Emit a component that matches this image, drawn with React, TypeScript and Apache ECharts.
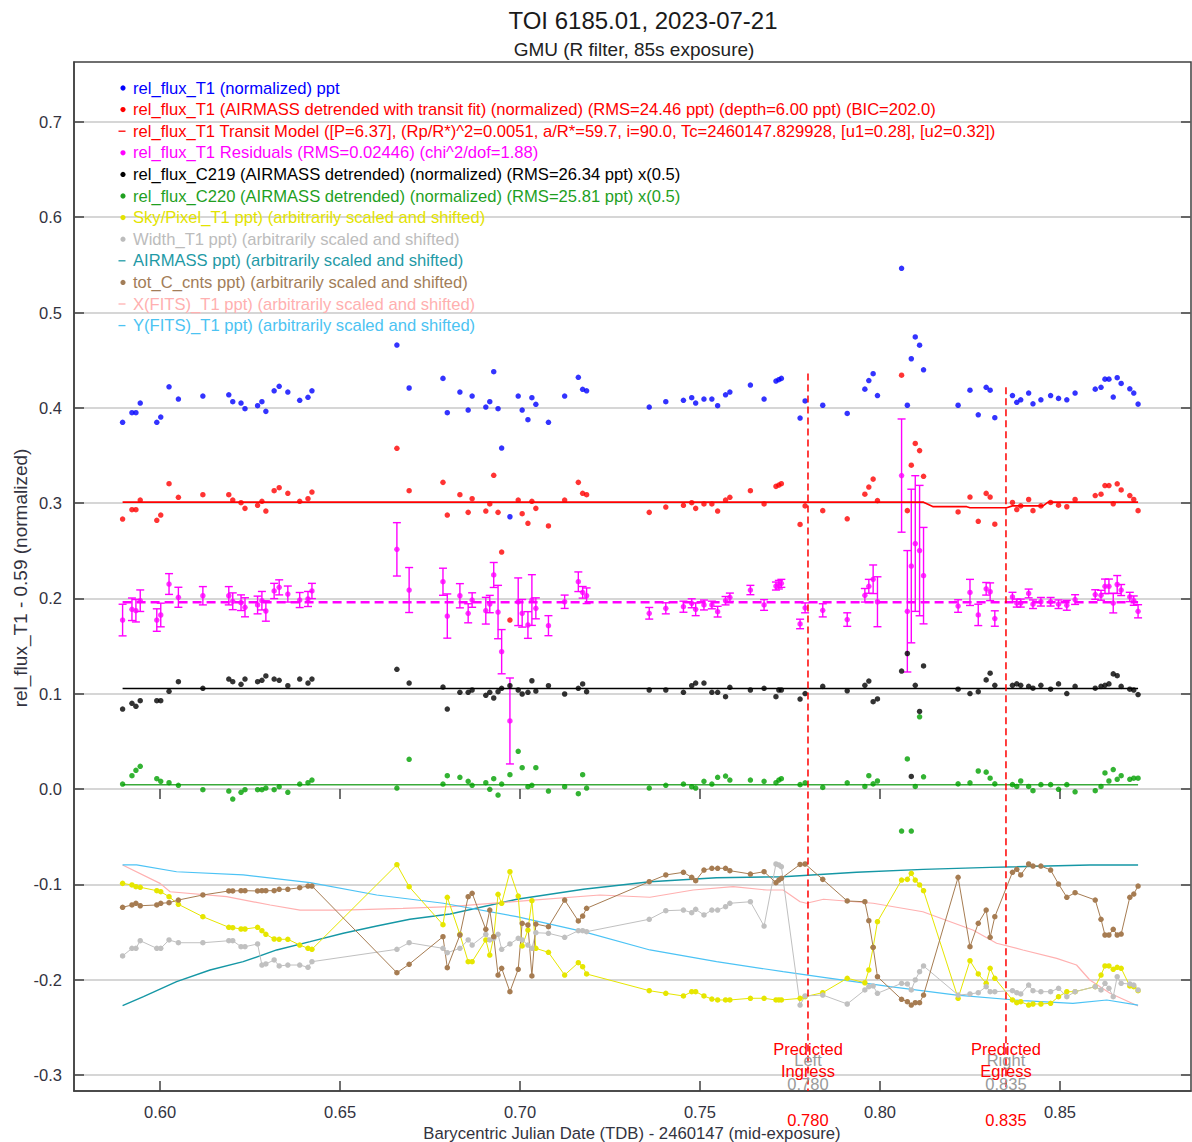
import React, { useEffect, useRef } from "react";
import * as echarts from "echarts";

const times = [
  0.5896, 0.5922, 0.5933, 0.5945, 0.5991, 0.6002, 0.6025, 0.6051, 0.6119, 0.6191,
  0.6202, 0.6225, 0.6236, 0.6271, 0.6283, 0.6294, 0.6317, 0.6331, 0.6355, 0.6388,
  0.6411, 0.6422, 0.6658, 0.6692, 0.6786, 0.6798, 0.6833, 0.6856, 0.6867, 0.6905,
  0.6916, 0.6927, 0.6939, 0.6949, 0.6972, 0.6995, 0.7006, 0.7022, 0.7033, 0.7044,
  0.7079, 0.7124, 0.7162, 0.7174, 0.7185, 0.7359, 0.7405, 0.7454, 0.7477, 0.7488,
  0.7511, 0.7533, 0.7549, 0.7571, 0.7583, 0.764, 0.7678, 0.7711, 0.7719, 0.7726,
  0.7778, 0.7792, 0.7841, 0.7909, 0.7958, 0.7969, 0.7981, 0.7993, 0.806, 0.8076,
  0.8087, 0.8098, 0.811, 0.8121, 0.8217, 0.825, 0.8273, 0.8295, 0.8306, 0.8319,
  0.8368, 0.838, 0.8391, 0.8413, 0.8425, 0.8447, 0.8474, 0.8496, 0.8519, 0.8542,
  0.8598, 0.8614, 0.8625, 0.8636, 0.8648, 0.8659, 0.867, 0.8694, 0.8705, 0.8717,
];

const relFluxT1 = [
  0.3848, 0.3949, 0.3949, 0.405, 0.3848, 0.3903, 0.4221, 0.4092, 0.4124, 0.4137,
  0.4064, 0.405, 0.3991, 0.4022, 0.4064, 0.3963, 0.4179, 0.4226, 0.4166, 0.4079,
  0.411, 0.4179, 0.4659, 0.4208, 0.4309, 0.3949, 0.4166, 0.3977, 0.4124, 0.4008,
  0.4064, 0.4379, 0.3991, 0.3578, 0.2857, 0.4124, 0.3977, 0.3875, 0.4106, 0.4037,
  0.3848, 0.4124, 0.432, 0.4194, 0.4179, 0.4008, 0.4064, 0.4079, 0.4106, 0.405,
  0.4092, 0.4092, 0.4022, 0.4137, 0.4166, 0.4239, 0.4092, 0.4281, 0.4295, 0.4309,
  0.3893, 0.4072, 0.4027, 0.3941, 0.4196, 0.4286, 0.4358, 0.4129, 0.5464, 0.4027,
  0.4515, 0.4744, 0.4657, 0.4399, 0.4027, 0.4185, 0.3927, 0.4215, 0.4185, 0.3896,
  0.4129, 0.4058, 0.4084, 0.4155, 0.4042, 0.4084, 0.4129, 0.4099, 0.4084, 0.4155,
  0.4196, 0.4215, 0.4301, 0.4301, 0.4113, 0.4316, 0.4256, 0.42, 0.4155, 0.4039,
];

const detrended = [
  0.2833, 0.2931, 0.2931, 0.3032, 0.282, 0.2875, 0.3204, 0.3061, 0.3088, 0.3088,
  0.3032, 0.3004, 0.2945, 0.2977, 0.3019, 0.2917, 0.313, 0.3162, 0.3103, 0.3019,
  0.3046, 0.3116, 0.3575, 0.313, 0.3218, 0.2875, 0.3088, 0.2903, 0.3046, 0.2917,
  0.2991, 0.3292, 0.2903, 0.2487, 0.1773, 0.3032, 0.2889, 0.2788, 0.3019, 0.2945,
  0.276, 0.3032, 0.3218, 0.3103, 0.3088, 0.2903, 0.2959, 0.2977, 0.3004, 0.2945,
  0.2991, 0.2991, 0.2917, 0.3032, 0.3061, 0.313, 0.2991, 0.3176, 0.319, 0.3204,
  0.2776, 0.2971, 0.2921, 0.2835, 0.3094, 0.3169, 0.3252, 0.3026, 0.4342, 0.2921,
  0.3398, 0.3626, 0.3551, 0.3281, 0.2907, 0.3064, 0.2809, 0.3102, 0.3064, 0.2779,
  0.3007, 0.2933, 0.2971, 0.3038, 0.2921, 0.2971, 0.3007, 0.2978, 0.2962, 0.3038,
  0.3079, 0.3094, 0.3184, 0.3184, 0.2993, 0.3203, 0.3138, 0.3079, 0.3038, 0.2921,
];

const residuals = [
  0.1773, 0.1886, 0.1871, 0.1976, 0.1773, 0.1826, 0.2151, 0.2012, 0.2028, 0.2028,
  0.197, 0.1955, 0.1907, 0.1931, 0.1976, 0.1868, 0.2078, 0.2116, 0.2046, 0.1983,
  0.1994, 0.2078, 0.2515, 0.2088, 0.2175, 0.1815, 0.2028, 0.1844, 0.1983, 0.1871,
  0.1941, 0.2246, 0.1857, 0.1441, 0.0714, 0.1965, 0.1844, 0.1721, 0.1983, 0.1896,
  0.1714, 0.1965, 0.2175, 0.2064, 0.2028, 0.1844, 0.1896, 0.1913, 0.1949, 0.1886,
  0.1931, 0.1931, 0.1861, 0.1976, 0.2012, 0.2088, 0.1931, 0.213, 0.2144, 0.2158,
  0.1732, 0.1901, 0.1875, 0.1778, 0.2033, 0.2127, 0.2201, 0.1965, 0.3289, 0.1865,
  0.234, 0.2576, 0.2502, 0.2239, 0.192, 0.2063, 0.1827, 0.2101, 0.207, 0.1789,
  0.2015, 0.1951, 0.1951, 0.2052, 0.1939, 0.1965, 0.1965, 0.1939, 0.1928, 0.1988,
  0.2041, 0.2033, 0.2127, 0.2127, 0.1951, 0.2146, 0.2088, 0.2015, 0.1977, 0.1865,
];

const residualErr = [
  0.0166, 0.0118, 0.0118, 0.0113, 0.0118, 0.0124, 0.0109, 0.0105, 0.0096, 0.0096,
  0.0088, 0.0082, 0.01, 0.0093, 0.0097, 0.0107, 0.008, 0.0079, 0.0084, 0.0079,
  0.0079, 0.008, 0.028, 0.0236, 0.0142, 0.0232, 0.0127, 0.01, 0.0076, 0.014,
  0.0091, 0.0131, 0.028, 0.0232, 0.0451, 0.025, 0.0145, 0.014, 0.0266, 0.011,
  0.0105, 0.007, 0.0103, 0.0061, 0.0082, 0.0061, 0.0058, 0.0058, 0.0047, 0.0067,
  0.0052, 0.004, 0.0056, 0.0044, 0.0044, 0.0049, 0.0056, 0.0042, 0.0045, 0.0042,
  0.005, 0.0052, 0.0069, 0.0071, 0.0071, 0.0073, 0.015, 0.0262, 0.0594, 0.0637,
  0.0806, 0.0712, 0.0684, 0.0506, 0.0066, 0.0137, 0.0112, 0.0066, 0.0093, 0.0081,
  0.0049, 0.0042, 0.0042, 0.0046, 0.0045, 0.0045, 0.0045, 0.0045, 0.0052, 0.0051,
  0.005, 0.0052, 0.0076, 0.0076, 0.0103, 0.0094, 0.0058, 0.0049, 0.0049, 0.0069,
];

const c219 = [
  0.0839, 0.0899, 0.0868, 0.0927, 0.0927, 0.0927, 0.1025, 0.1126, 0.1057, 0.1154,
  0.1126, 0.1099, 0.1154, 0.1126, 0.1141, 0.1186, 0.1154, 0.1141, 0.1084, 0.1154,
  0.1112, 0.1154, 0.1256, 0.1112, 0.107, 0.0839, 0.1015, 0.1015, 0.1039, 0.0983,
  0.1015, 0.0955, 0.1021, 0.1057, 0.1084, 0.1039, 0.0997, 0.1015, 0.1136, 0.1028,
  0.1084, 0.0997, 0.1057, 0.1102, 0.1021, 0.1039, 0.1039, 0.1015, 0.1084, 0.1112,
  0.1112, 0.1015, 0.1015, 0.0969, 0.1067, 0.1039, 0.1057, 0.0969, 0.1039, 0.1039,
  0.0944, 0.1002, 0.1077, 0.1031, 0.1088, 0.1133, 0.0916, 0.0945, 0.1238, 0.1422,
  0.0132, 0.1088, 0.0814, 0.1291, 0.1047, 0.1002, 0.1021, 0.1145, 0.1215, 0.1088,
  0.1088, 0.1103, 0.1088, 0.1077, 0.1058, 0.1088, 0.1047, 0.1103, 0.1002, 0.1077,
  0.1058, 0.1077, 0.1088, 0.1103, 0.1208, 0.1189, 0.1077, 0.1047, 0.1039, 0.0991,
];

const c220 = [
  0.0052, 0.014, 0.0196, 0.0238, 0.0108, 0.0081, 0.0066, 0.0039, -0.0007, -0.0021,
  -0.0105, -0.0035, -0.0007, -0.0007, -0.0007, 0.001, -0.0007, 0.0024, -0.0035, 0.0052,
  0.0066, 0.0094, 0.001, 0.0312, 0.0052, 0.014, 0.0123, 0.0081, 0.0039, 0.0066,
  -0.0003, 0.0108, -0.0063, 0.0052, 0.015, 0.0396, 0.0224, 0.0024, 0.0039, 0.0224,
  -0.0021, 0.0024, -0.0049, 0.015, 0.001, 0.001, 0.0039, 0.0052, 0.0024, 0.001,
  0.0081, 0.0052, 0.0123, 0.0136, 0.0094, 0.0094, 0.0081, 0.0066, 0.0094, 0.0108,
  0.0046, 0.0065, 0.0016, 0.0065, 0.0027, 0.014, 0.0054, 0.0084, -0.0441, 0.0315,
  -0.0441, 0.0027, 0.0758, 0.0128, 0.0054, 0.0065, 0.0189, 0.0177, 0.0113, 0.0054,
  0.0046, 0.0027, 0.0084, 0.0027, -0.0018, 0.0046, 0.0046, -0.0003, 0.0046, -0.0029,
  -0.0018, 0.0027, 0.0169, 0.0084, 0.0204, 0.0102, 0.014, 0.0102, 0.0113, 0.0113,
];

const skyPixel = [
  -0.099, -0.1007, -0.1025, -0.1031, -0.1067, -0.1078, -0.113, -0.121, -0.134, -0.1451,
  -0.1455, -0.1469, -0.1469, -0.1451, -0.1487, -0.1525, -0.1574, -0.1577, -0.1577, -0.1637,
  -0.1672, -0.1682, -0.0794, -0.1025, -0.1424, -0.1136, -0.1525, -0.1812, -0.1812, -0.1584,
  -0.1742, -0.155, -0.1105, -0.1199, -0.0868, -0.1123, -0.1647, -0.148, -0.1172, -0.1672,
  -0.1714, -0.1952, -0.1823, -0.1865, -0.1941, -0.2116, -0.2144, -0.2172, -0.2127, -0.2127,
  -0.2172, -0.2204, -0.2214, -0.2214, -0.2214, -0.2196, -0.2196, -0.2214, -0.2214, -0.2214,
  -0.2197, -0.2179, -0.2137, -0.1986, -0.2033, -0.1899, -0.1661, -0.1392, -0.0955, -0.0948,
  -0.0885, -0.0955, -0.1007, -0.1067, -0.2196, -0.1802, -0.1941, -0.2039, -0.1881, -0.1986,
  -0.2214, -0.2242, -0.2232, -0.2267, -0.2256, -0.2256, -0.2249, -0.2179, -0.2127, -0.2127,
  -0.2074, -0.1952, -0.1857, -0.1857, -0.1892, -0.1871, -0.1881, -0.2067, -0.2074, -0.2116,
];

const widthT1 = [
  -0.1752, -0.1672, -0.1672, -0.1592, -0.1672, -0.1672, -0.1584, -0.1613, -0.1613, -0.1592,
  -0.1592, -0.1655, -0.1655, -0.1626, -0.1847, -0.1836, -0.1794, -0.1857, -0.1847, -0.1847,
  -0.1871, -0.1812, -0.1682, -0.1613, -0.1672, -0.1718, -0.1672, -0.1584, -0.1637, -0.1525,
  -0.1584, -0.1567, -0.1525, -0.1682, -0.1626, -0.1567, -0.1584, -0.1637, -0.1672, -0.1508,
  -0.1514, -0.1556, -0.1487, -0.1487, -0.1497, -0.1367, -0.1277, -0.127, -0.1298, -0.1262,
  -0.1322, -0.127, -0.127, -0.1235, -0.1199, -0.1183, -0.1438, -0.0787, -0.0797, -0.0815,
  -0.2267, -0.2172, -0.2162, -0.2256, -0.2109, -0.2074, -0.2067, -0.2144, -0.2039, -0.2046,
  -0.2109, -0.2004, -0.1917, -0.1857, -0.2162, -0.2151, -0.2137, -0.2074, -0.2127, -0.2127,
  -0.2116, -0.2137, -0.2151, -0.2057, -0.2116, -0.2127, -0.2127, -0.2091, -0.2179, -0.2127,
  -0.2074, -0.2109, -0.2039, -0.2091, -0.2179, -0.197, -0.2039, -0.2046, -0.2057, -0.2109,
];

const totCnts = [
  -0.1241, -0.1217, -0.1199, -0.1225, -0.1217, -0.1199, -0.1193, -0.1165, -0.1112, -0.107,
  -0.107, -0.1067, -0.1067, -0.107, -0.1067, -0.1067, -0.1067, -0.1052, -0.1052, -0.1036,
  -0.1018, -0.1018, -0.1928, -0.1839, -0.155, -0.1875, -0.1532, -0.113, -0.1094, -0.1472,
  -0.127, -0.155, -0.1952, -0.1881, -0.2127, -0.1892, -0.1409, -0.1427, -0.1962, -0.1417,
  -0.1445, -0.1165, -0.1385, -0.1333, -0.1252, -0.0973, -0.0902, -0.0874, -0.0927, -0.0962,
  -0.085, -0.0832, -0.0832, -0.0832, -0.0857, -0.0892, -0.0868, -0.0983, -0.0955, -0.0937,
  -0.0792, -0.0787, -0.0948, -0.1175, -0.1183, -0.1382, -0.1661, -0.197, -0.2207, -0.2232,
  -0.2267, -0.2242, -0.2242, -0.2162, -0.0927, -0.1655, -0.1409, -0.127, -0.1556, -0.134,
  -0.0874, -0.0843, -0.0902, -0.0787, -0.0808, -0.0808, -0.085, -0.0997, -0.1136, -0.1088,
  -0.1165, -0.1367, -0.1532, -0.1532, -0.1472, -0.1532, -0.1522, -0.1136, -0.1102, -0.1018,
];

const airmassT = [0.5896, 0.5954, 0.6046, 0.6139, 0.6231, 0.6324, 0.6417, 0.6509, 0.6602, 0.6694, 0.6806, 0.6991, 0.7176, 0.7361, 0.7546, 0.7731, 0.7935, 0.812, 0.8306, 0.8583, 0.8717];
const airmassY = [-0.2274, -0.2179, -0.2022, -0.1899, -0.1812, -0.1689, -0.1602, -0.1514, -0.1438, -0.1367, -0.1312, -0.1157, -0.1052, -0.0973, -0.0931, -0.092, -0.0874, -0.0843, -0.0822, -0.0797, -0.0797];

const xfitsT = [0.5896, 0.6, 0.6028, 0.6185, 0.6306, 0.6389, 0.6508, 0.6675, 0.6806, 0.7036, 0.7222, 0.7361, 0.7481, 0.7592, 0.7686, 0.7731, 0.7778, 0.7796, 0.7843, 0.7981, 0.8119, 0.8258, 0.8324, 0.8397, 0.8491, 0.8546, 0.8583, 0.8639, 0.8717];
const xfitsY = [-0.0797, -0.099, -0.1078, -0.113, -0.1217, -0.127, -0.127, -0.1252, -0.1235, -0.1165, -0.1112, -0.1136, -0.106, -0.1025, -0.106, -0.106, -0.1183, -0.1199, -0.1157, -0.1199, -0.1288, -0.148, -0.1619, -0.1689, -0.1777, -0.1847, -0.2004, -0.2144, -0.2277];

const yfitsT = [0.5896, 0.5935, 0.6046, 0.6231, 0.6417, 0.6602, 0.6787, 0.6991, 0.7176, 0.7361, 0.7546, 0.7731, 0.7843, 0.8028, 0.8213, 0.8397, 0.8536, 0.863, 0.8717];
const yfitsY = [-0.0797, -0.0797, -0.0868, -0.0902, -0.0983, -0.1112, -0.1199, -0.134, -0.1497, -0.1689, -0.1812, -0.1917, -0.1976, -0.2074, -0.2162, -0.2221, -0.2249, -0.2214, -0.2267];

const modelT = [0.5896, 0.8121, 0.8148, 0.8241, 0.825, 0.8352, 0.8368, 0.8453, 0.8467, 0.8717];
const modelY = [0.301, 0.301, 0.2963, 0.2963, 0.2952, 0.2952, 0.2971, 0.2971, 0.301, 0.301];

const residualBaseline = 0.196;
const c219Level = 0.1055;
const c220Level = 0.0044;

const xTicks = [0.6, 0.65, 0.7, 0.75, 0.8, 0.85];
const yTicks = [-0.3, -0.2, -0.1, 0, 0.1, 0.2, 0.3, 0.4, 0.5, 0.6, 0.7];
const X_MIN = 0.5761;
const X_MAX = 0.8864;
const Y_MIN = -0.3169;
const Y_MAX = 0.7629;

const predicted = [
  { t: 0.78, top: 0.436, side: "Left", kind: "Ingress", label: "0.780" },
  { t: 0.835, top: 0.4215, side: "Right", kind: "Egress", label: "0.835" },
];

const legendItems = [
  { text: "rel_flux_T1 (normalized) ppt", color: "#0000ff", mark: "dot" },
  { text: "rel_flux_T1 (AIRMASS detrended with transit fit) (normalized) (RMS=24.46 ppt) (depth=6.00 ppt) (BIC=202.0)", color: "#ff0000", mark: "dot" },
  { text: "rel_flux_T1 Transit Model ([P=6.37], (Rp/R*)^2=0.0051, a/R*=59.7, i=90.0, Tc=2460147.829928, [u1=0.28], [u2=0.32])", color: "#ff0000", mark: "dash" },
  { text: "rel_flux_T1 Residuals (RMS=0.02446) (chi^2/dof=1.88)", color: "#ff00ff", mark: "dot" },
  { text: "rel_flux_C219 (AIRMASS detrended) (normalized) (RMS=26.34 ppt) x(0.5)", color: "#000000", mark: "dot" },
  { text: "rel_flux_C220 (AIRMASS detrended) (normalized) (RMS=25.81 ppt) x(0.5)", color: "#1f9f1f", mark: "dot" },
  { text: "Sky/Pixel_T1 ppt) (arbitrarily scaled and shifted)", color: "#e3e300", mark: "dot" },
  { text: "Width_T1 ppt) (arbitrarily scaled and shifted)", color: "#bcbcbc", mark: "dot" },
  { text: "AIRMASS ppt) (arbitrarily scaled and shifted)", color: "#1f9aa6", mark: "dash" },
  { text: "tot_C_cnts ppt) (arbitrarily scaled and shifted)", color: "#a27d58", mark: "dot" },
  { text: "X(FITS)_T1 ppt) (arbitrarily scaled and shifted)", color: "#ffb0b0", mark: "dash" },
  { text: "Y(FITS)_T1 ppt) (arbitrarily scaled and shifted)", color: "#4cc3f2", mark: "dash" },
];

const COLORS = {
  blue: "#0000ff",
  red: "#ff0000",
  magenta: "#ff00ff",
  black: "#000000",
  green: "#00a000",
  greenLine: "#3aaa3a",
  yellow: "#e6e600",
  gray: "#c0c0c0",
  teal: "#1597a5",
  brown: "#a67c52",
  pink: "#ffb0b0",
  lightBlue: "#4cc3f5",
};

const FONT = "'Liberation Sans', Arial, Helvetica, sans-serif";

function zip(a: number[], b: number[]) {
  return a.map((v, i) => [v, b[i]]);
}

export default function App() {
  const ref = useRef<HTMLDivElement>(null);
  useEffect(() => {
    if (!ref.current) return;
    const chart = echarts.init(ref.current, null, { renderer: "svg" });
    const first = times[0];
    const last = times[times.length - 1];
    const scatter = (name: string, data: number[], color: string, z = 5) => ({
      name,
      type: "scatter",
      data: zip(times, data),
      symbol: "circle",
      symbolSize: 5.5,
      itemStyle: { color },
      z,
    });
    const lineMarked = (name: string, data: number[], color: string) => ({
      name,
      type: "line",
      data: zip(times, data),
      symbol: "circle",
      symbolSize: 5.5,
      showSymbol: true,
      itemStyle: { color },
      lineStyle: { color, width: 1 },
      z: 4,
    });
    const plainLine = (name: string, t: number[], y: number[], color: string, width = 1.2, type: any = "solid", z = 3) => ({
      name,
      type: "line",
      data: zip(t, y),
      showSymbol: false,
      symbol: "none",
      lineStyle: { color, width, type },
      z,
    });

    const series: any[] = [
      scatter("rel_flux_T1", relFluxT1, COLORS.blue),
      scatter("detrended", detrended, COLORS.red),
      plainLine("model", modelT, modelY, COLORS.red, 1.6, "solid", 4),
      {
        name: "residual err",
        type: "custom",
        data: times.map((t, i) => [t, residuals[i], residualErr[i]]),
        encode: { x: 0, y: 1 },
        clip: true,
        z: 4,
        renderItem: (params: any, api: any) => {
          const x = api.value(0);
          const y = api.value(1);
          const e = api.value(2);
          const top = api.coord([x, y + e]);
          const bot = api.coord([x, y - e]);
          const hw = 4;
          const st = { stroke: COLORS.magenta, lineWidth: 1.4 };
          return {
            type: "group",
            children: [
              { type: "line", shape: { x1: top[0], y1: top[1], x2: bot[0], y2: bot[1] }, style: st },
              { type: "line", shape: { x1: top[0] - hw, y1: top[1], x2: top[0] + hw, y2: top[1] }, style: st },
              { type: "line", shape: { x1: bot[0] - hw, y1: bot[1], x2: bot[0] + hw, y2: bot[1] }, style: st },
            ],
          };
        },
      },
      scatter("residuals", residuals, COLORS.magenta),
      plainLine("residual baseline", [first, last], [residualBaseline, residualBaseline], COLORS.magenta, 2.6, [9, 5], 4),
      plainLine("c219 level", [first, last], [c219Level, c219Level], COLORS.black, 1.6, "solid", 4),
      scatter("c219", c219, COLORS.black),
      plainLine("c220 level", [first, last], [c220Level, c220Level], COLORS.greenLine, 1.6, "solid", 4),
      scatter("c220", c220, COLORS.green),
      lineMarked("sky", skyPixel, COLORS.yellow),
      lineMarked("width", widthT1, COLORS.gray),
      plainLine("airmass", airmassT, airmassY, COLORS.teal, 1.4),
      lineMarked("cnts", totCnts, COLORS.brown),
      plainLine("xfits", xfitsT, xfitsY, COLORS.pink, 1.2),
      plainLine("yfits", yfitsT, yfitsY, COLORS.lightBlue, 1.2),
      ...predicted.map((p) =>
        plainLine("pred " + p.kind, [p.t, p.t], [p.top, Y_MIN], COLORS.red, 1.5, [7, 4], 6)
      ),
    ];

    const axisColor = "#404040";
    const option: any = {
      animation: false,
      backgroundColor: "#ffffff",
      grid: {
        left: 74,
        right: 1,
        top: 62,
        bottom: 51,
        show: true,
        borderColor: axisColor,
        borderWidth: 1.5,
        backgroundColor: "transparent",
      },
      xAxis: [
        {
          type: "value",
          min: X_MIN,
          max: X_MAX,
          position: "bottom",
          axisLine: { show: true, onZero: false, lineStyle: { color: axisColor, width: 1.5 } },
          axisTick: { show: true, inside: true, length: 10, customValues: xTicks, lineStyle: { color: axisColor, width: 1.5 } },
          axisLabel: {
            show: true,
            customValues: xTicks,
            formatter: (v: number) => v.toFixed(2),
            fontSize: 16.5,
            fontFamily: FONT,
            color: "#333340",
            margin: 12,
          },
          splitLine: { show: false },
        },
        {
          type: "value",
          min: X_MIN,
          max: X_MAX,
          position: "top",
          axisLine: { show: false },
          axisTick: { show: true, inside: true, length: 10, customValues: xTicks, lineStyle: { color: axisColor, width: 1.5 } },
          axisLabel: { show: false },
          splitLine: { show: false },
        },
      ],
      yAxis: [
        {
          type: "value",
          min: Y_MIN,
          max: Y_MAX,
          position: "left",
          axisLine: { show: true, onZero: false, lineStyle: { color: axisColor, width: 1.5 } },
          axisTick: { show: true, inside: true, length: 10, customValues: yTicks, lineStyle: { color: axisColor, width: 1.5 } },
          axisLabel: {
            show: true,
            customValues: yTicks,
            formatter: (v: number) => v.toFixed(1),
            fontSize: 16.5,
            fontFamily: FONT,
            color: "#333340",
            margin: 12,
          },
          splitLine: { show: true, lineStyle: { color: "#c8c8c8", width: 1.5 } },
        },
        {
          type: "value",
          min: Y_MIN,
          max: Y_MAX,
          position: "right",
          axisLine: { show: false },
          axisTick: { show: true, inside: true, length: 10, customValues: yTicks, lineStyle: { color: axisColor, width: 1.5 } },
          axisLabel: { show: false },
          splitLine: { show: false },
        },
      ],
      series,
    };
    chart.setOption(option);

    const graphics: any[] = [];
    const txt = (x: number, y: number, text: string, color: string, size: number, align = "left", extra: any = {}) => ({
      type: "text",
      x,
      y,
      z: 100,
      ...extra,
      style: {
        text,
        fill: color,
        fontSize: size,
        fontFamily: FONT,
        align,
        verticalAlign: "middle",
        textAlign: align,
        textVerticalAlign: "middle",
      },
    });

    graphics.push(txt(643, 20, "TOI 6185.01, 2023-07-21", "#1a1a1a", 24, "center"));
    graphics.push(txt(634, 49, "GMU (R filter, 85s exposure)", "#222222", 19, "center"));
    graphics.push(txt(632, 1133, "Barycentric Julian Date (TDB) - 2460147 (mid-exposure)", "#333340", 16.7, "center"));
    graphics.push(txt(20, 578, "rel_flux_T1 - 0.59 (normalized)", "#333340", 19, "center", { rotation: Math.PI / 2 }));

    legendItems.forEach((item, i) => {
      const y = 88 + 21.6 * i;
      if (item.mark === "dot") {
        graphics.push({ type: "circle", z: 100, shape: { cx: 123, cy: y, r: 2.6 }, style: { fill: item.color } });
      } else {
        graphics.push({ type: "line", z: 100, shape: { x1: 118.5, y1: y, x2: 125.5, y2: y }, style: { stroke: item.color, lineWidth: 1.3 } });
      }
      graphics.push(txt(133, y, item.text, item.color, 16.6, "left"));
    });

    predicted.forEach((p) => {
      const px = chart.convertToPixel({ xAxisIndex: 0 }, p.t) as number;
      graphics.push(txt(px, 1060, p.side, "#9a9a9a", 16.5, "center"));
      graphics.push(txt(px, 1084, p.label, "#9a9a9a", 16.5, "center"));
      graphics.push(txt(px, 1049, "Predicted", "#ff0000", 16.5, "center"));
      graphics.push(txt(px, 1071, p.kind, "#ff0000", 16.5, "center"));
      graphics.push(txt(px, 1120, p.label, "#ff0000", 16.5, "center"));
    });

    chart.setOption({ graphic: graphics });
    return () => chart.dispose();
  }, []);

  return (
    <div
      ref={ref}
      style={{ position: "fixed", left: 0, top: 0, width: 1192, height: 1142, background: "#ffffff" }}
    />
  );
}
